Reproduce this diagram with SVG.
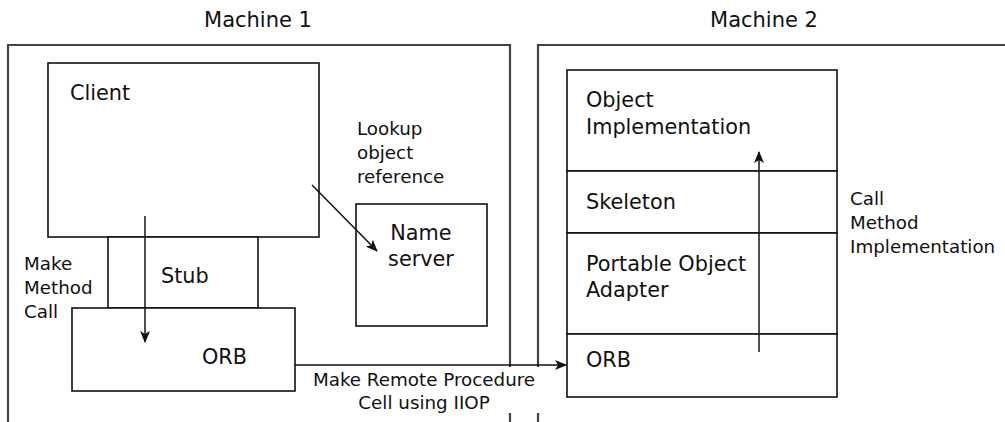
<svg xmlns="http://www.w3.org/2000/svg" width="1005" height="422" viewBox="0 0 1005 422">
<style>
text{font-family:"DejaVu Sans","Liberation Sans",Arial,sans-serif;font-size:18.3px;fill:#111}
.node{font-size:20.8px}
.title{font-size:21px;text-anchor:middle}
.mach{fill:none;stroke:#444;stroke-width:2.2}
.box{fill:#fff;stroke:#111;stroke-width:1.6}
.conn{fill:none;stroke:#111;stroke-width:1.5}
.mid{text-anchor:middle}
</style>
<defs>
<marker id="arr" viewBox="0 0 12 10" refX="11" refY="5" markerWidth="12" markerHeight="10" markerUnits="userSpaceOnUse" orient="auto">
<path d="M0,0 L12,5 L0,10 L3,5 Z" fill="#111"/>
</marker>
</defs>

<g id="machine1">
<path class="mach" d="M8,422 V45 H510 V367 M510,413 V422"/>
<text class="title" x="258" y="27">Machine 1</text>
</g>
<g id="machine2">
<path class="mach" d="M538,367 V45 H1006 M538,413 V422"/>
<text class="title" x="764" y="27">Machine 2</text>
</g>

<g id="client">
<rect class="box" x="48" y="63" width="271" height="174"/>
<text class="node" x="70" y="100">Client</text>
</g>
<g id="stub">
<rect class="box" x="108" y="237" width="150" height="71"/>
<text class="node" x="161" y="283">Stub</text>
</g>
<g id="orb1">
<rect class="box" x="72" y="308" width="223" height="83"/>
<text class="node" x="202" y="364">ORB</text>
</g>
<g id="nameserver">
<rect class="box" x="356" y="204" width="131" height="122"/>
<text class="node mid" x="421" y="240">Name</text>
<text class="node mid" x="421" y="266">server</text>
</g>

<g id="objimpl">
<rect class="box" x="567" y="70" width="270" height="101"/>
<text class="node" x="586" y="107">Object</text>
<text class="node" x="586" y="134">Implementation</text>
</g>
<g id="skeleton">
<rect class="box" x="567" y="171" width="270" height="62"/>
<text class="node" x="586" y="209">Skeleton</text>
</g>
<g id="poa">
<rect class="box" x="567" y="233" width="270" height="101"/>
<text class="node" x="586" y="271">Portable Object</text>
<text class="node" x="586" y="297">Adapter</text>
</g>
<g id="orb2">
<rect class="box" x="567" y="334" width="270" height="63"/>
<text class="node" x="586" y="367">ORB</text>
</g>

<g id="labels">
<text x="357" y="135">Lookup</text>
<text x="357" y="159">object</text>
<text x="357" y="183">reference</text>
<text x="24" y="270">Make</text>
<text x="24" y="294">Method</text>
<text x="24" y="318">Call</text>
<text class="mid" x="424" y="386">Make Remote Procedure</text>
<text class="mid" x="424" y="409">Cell using IIOP</text>
<text x="850" y="205">Call</text>
<text x="850" y="229">Method</text>
<text x="850" y="253">Implementation</text>
</g>

<g id="connectors">
<line class="conn" x1="145" y1="216" x2="145" y2="342" marker-end="url(#arr)"/>
<line class="conn" x1="312" y1="185" x2="377" y2="251" marker-end="url(#arr)"/>
<line class="conn" x1="295" y1="365" x2="566" y2="365" marker-end="url(#arr)"/>
<line class="conn" x1="759" y1="352" x2="759" y2="152" marker-end="url(#arr)"/>
</g>
</svg>
